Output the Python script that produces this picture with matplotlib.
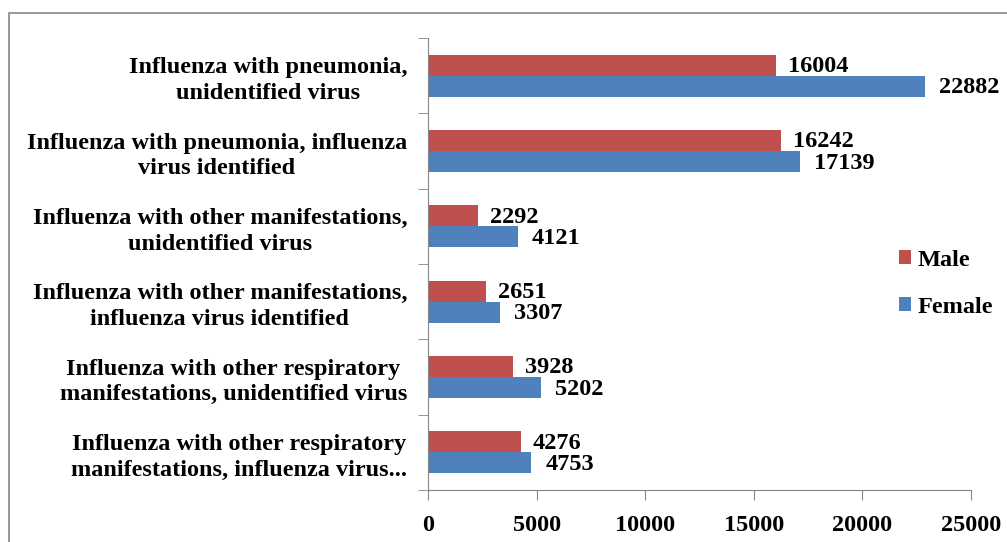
import numpy as np
import matplotlib.pyplot as plt
from matplotlib.patches import Rectangle

# data (top to bottom as in the chart)
categories = [
    "Influenza with pneumonia,\nunidentified virus",
    "Influenza with pneumonia, influenza\nvirus identified",
    "Influenza with other manifestations,\nunidentified virus",
    "Influenza with other manifestations,\ninfluenza virus identified",
    "Influenza with other respiratory\nmanifestations, unidentified virus",
    "Influenza with other respiratory\nmanifestations, influenza virus...",
]
male = [16004, 16242, 2292, 2651, 3928, 4276]
female = [22882, 17139, 4121, 3307, 5202, 4753]
x_ticks = [0, 5000, 10000, 15000, 20000, 25000]

plt.rcParams['font.family'] = ['Liberation Serif', 'DejaVu Serif']
plt.rcParams['font.weight'] = 'bold'

W, H = 1007, 542
fig = plt.figure(figsize=(W / 100, H / 100), dpi=100)
ax = fig.add_axes([428 / W, 1 - 490 / H, (971 - 428) / W, (490 - 38) / H])

# outer chart border (right and bottom run off the picture)
fig.patches.append(Rectangle((9 / W, -0.1), 1.2, 1 - 13 / H + 0.1,
                             transform=fig.transFigure, fill=False,
                             edgecolor='#868686', linewidth=1.2))

y = np.arange(len(categories))
h = 0.28
red = '#C0504D'
blue = '#4F81BD'
bm = ax.barh(y - h / 2, male, height=h, color=red, label='Male')
bf = ax.barh(y + h / 2, female, height=h, color=blue, label='Female')

fs = 17.5
for rect, v in zip(bm, male):
    ax.text(v + 550, rect.get_y() + rect.get_height() / 2 + 0.02, str(v),
            va='center', ha='left', fontsize=fs, fontweight='bold')
for rect, v in zip(bf, female):
    ax.text(v + 650, rect.get_y() + rect.get_height() / 2 + 0.02, str(v),
            va='center', ha='left', fontsize=fs, fontweight='bold')

ax.set_ylim(len(categories) - 0.5, -0.5)
ax.set_xlim(0, 25000)
ax.set_yticks(y)
ax.set_yticklabels(categories, fontsize=fs, fontweight='bold',
                   multialignment='center', linespacing=1.3)
ax.set_yticks(np.arange(len(categories) + 1) - 0.5, minor=True)
ax.tick_params(axis='y', which='major', length=0, pad=15)
ax.tick_params(axis='y', which='minor', length=7, color='#868686',
               direction='out')
ax.set_xticks(x_ticks)
ax.set_xticklabels([str(t) for t in x_ticks], fontsize=fs, fontweight='bold')
ax.tick_params(axis='x', length=7, color='#868686', pad=11)

for s in ['top', 'right']:
    ax.spines[s].set_visible(False)
for s in ['left', 'bottom']:
    ax.spines[s].set_color('#868686')

leg = fig.legend(handles=[bm, bf], loc='upper left',
                 bbox_to_anchor=(899 / W, 1 - 250 / H), frameon=False,
                 borderpad=0, borderaxespad=0,
                 prop={'size': fs, 'weight': 'bold'}, handlelength=0.5,
                 handleheight=0.5, handletextpad=0.25, labelspacing=1.05)

fig.savefig('out.png', dpi=100)
